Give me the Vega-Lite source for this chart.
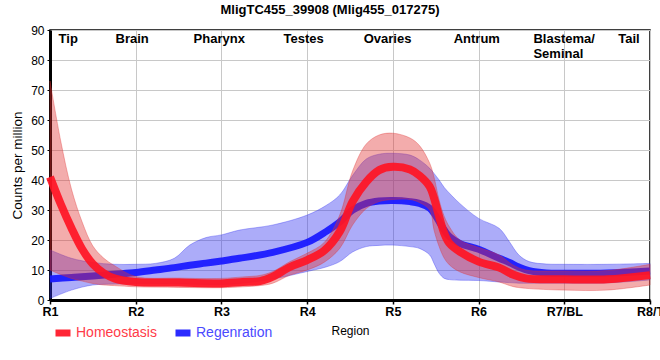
{
  "$schema": "https://vega.github.io/schema/vega-lite/v6.json",
  "width": 600,
  "height": 270,
  "autosize": {"type": "none"},
  "padding": {"left": 50, "top": 30, "right": 10, "bottom": 60},
  "background": "white",
  "title": {"text": "MligTC455_39908 (Mlig455_017275)", "font": "Liberation Sans", "fontSize": 13, "fontWeight": "bold", "color": "black", "anchor": "middle", "dx": -20, "offset": 7},
  "config": {
    "view": {"stroke": "black", "strokeWidth": 1.5},
    "font": "Liberation Sans",
    "axis": {"gridColor": "#c8c8c8", "gridWidth": 1, "gridOpacity": 1, "domainColor": "black", "domainWidth": 3, "tickColor": "black", "labelFont": "Liberation Sans", "titleFont": "Liberation Sans", "labelColor": "black", "titleColor": "black"}
  },
  "datasets": {
    "curves": [
      {"series": "Homeostasis", "x": 1.0, "mean": 41, "lo": 10, "hi": 73},
      {"series": "Homeostasis", "x": 1.125, "mean": 32, "lo": 8.5, "hi": 53},
      {"series": "Homeostasis", "x": 1.25, "mean": 24, "lo": 7.2, "hi": 37},
      {"series": "Homeostasis", "x": 1.375, "mean": 17, "lo": 6.3, "hi": 26},
      {"series": "Homeostasis", "x": 1.5, "mean": 12, "lo": 5.5, "hi": 18},
      {"series": "Homeostasis", "x": 1.625, "mean": 9, "lo": 5, "hi": 14},
      {"series": "Homeostasis", "x": 1.75, "mean": 7.2, "lo": 4.8, "hi": 11.5},
      {"series": "Homeostasis", "x": 2.0, "mean": 6, "lo": 4.4, "hi": 7.8},
      {"series": "Homeostasis", "x": 2.5, "mean": 5.8, "lo": 4.2, "hi": 7.3},
      {"series": "Homeostasis", "x": 3.0, "mean": 5.5, "lo": 4.1, "hi": 7.2},
      {"series": "Homeostasis", "x": 3.25, "mean": 6, "lo": 4.4, "hi": 7.7},
      {"series": "Homeostasis", "x": 3.45, "mean": 6.3, "lo": 4.8, "hi": 8.2},
      {"series": "Homeostasis", "x": 3.6, "mean": 7.8, "lo": 5.6, "hi": 9.5},
      {"series": "Homeostasis", "x": 3.8, "mean": 11, "lo": 8.3, "hi": 12.8},
      {"series": "Homeostasis", "x": 4.0, "mean": 13.3, "lo": 10, "hi": 15.6},
      {"series": "Homeostasis", "x": 4.2, "mean": 16.5, "lo": 12.6, "hi": 19.2},
      {"series": "Homeostasis", "x": 4.38, "mean": 22.8, "lo": 17.2, "hi": 28.3},
      {"series": "Homeostasis", "x": 4.53, "mean": 32.8, "lo": 25, "hi": 43},
      {"series": "Homeostasis", "x": 4.69, "mean": 39.4, "lo": 30.5, "hi": 52},
      {"series": "Homeostasis", "x": 4.84, "mean": 43.3, "lo": 32.8, "hi": 55},
      {"series": "Homeostasis", "x": 5.0, "mean": 44.4, "lo": 33.5, "hi": 55.6},
      {"series": "Homeostasis", "x": 5.2, "mean": 43.5, "lo": 33.5, "hi": 54},
      {"series": "Homeostasis", "x": 5.31, "mean": 41.5, "lo": 32.5, "hi": 51.5},
      {"series": "Homeostasis", "x": 5.43, "mean": 37.8, "lo": 30, "hi": 45.6},
      {"series": "Homeostasis", "x": 5.48, "mean": 34, "lo": 23.3, "hi": 41},
      {"series": "Homeostasis", "x": 5.54, "mean": 27.8, "lo": 17.8, "hi": 33.3},
      {"series": "Homeostasis", "x": 5.6, "mean": 22.2, "lo": 13.9, "hi": 27.8},
      {"series": "Homeostasis", "x": 5.66, "mean": 18.9, "lo": 11.7, "hi": 24.4},
      {"series": "Homeostasis", "x": 5.78, "mean": 16.1, "lo": 9.4, "hi": 20},
      {"series": "Homeostasis", "x": 6.0, "mean": 12.8, "lo": 7.5, "hi": 17.5},
      {"series": "Homeostasis", "x": 6.24, "mean": 10.8, "lo": 6, "hi": 15},
      {"series": "Homeostasis", "x": 6.4, "mean": 8.5, "lo": 4.5, "hi": 11.7},
      {"series": "Homeostasis", "x": 6.55, "mean": 7.2, "lo": 3.9, "hi": 10},
      {"series": "Homeostasis", "x": 7.0, "mean": 6.9, "lo": 3.3, "hi": 9.7},
      {"series": "Homeostasis", "x": 7.5, "mean": 6.9, "lo": 3.3, "hi": 9.8},
      {"series": "Homeostasis", "x": 8.0, "mean": 8.3, "lo": 5, "hi": 11.9},
      {"series": "Regenration", "x": 1.0, "mean": 7, "lo": 0.5, "hi": 16.7},
      {"series": "Regenration", "x": 1.25, "mean": 7.5, "lo": 3.3, "hi": 13.9},
      {"series": "Regenration", "x": 1.5, "mean": 8, "lo": 5, "hi": 12.5},
      {"series": "Regenration", "x": 1.75, "mean": 8.6, "lo": 5.3, "hi": 11.9},
      {"series": "Regenration", "x": 2.0, "mean": 9.2, "lo": 5.5, "hi": 11.9},
      {"series": "Regenration", "x": 2.23, "mean": 10, "lo": 5.5, "hi": 12.2},
      {"series": "Regenration", "x": 2.45, "mean": 10.8, "lo": 5.4, "hi": 13.9},
      {"series": "Regenration", "x": 2.63, "mean": 11.6, "lo": 5.3, "hi": 18.3},
      {"series": "Regenration", "x": 2.82, "mean": 12.3, "lo": 5.2, "hi": 20.8},
      {"series": "Regenration", "x": 3.0, "mean": 13, "lo": 5.2, "hi": 21.7},
      {"series": "Regenration", "x": 3.21, "mean": 13.9, "lo": 5.5, "hi": 23.3},
      {"series": "Regenration", "x": 3.6, "mean": 15.9, "lo": 7, "hi": 25},
      {"series": "Regenration", "x": 4.0, "mean": 19.2, "lo": 9.5, "hi": 28.3},
      {"series": "Regenration", "x": 4.22, "mean": 22.8, "lo": 11, "hi": 31.5},
      {"series": "Regenration", "x": 4.38, "mean": 26, "lo": 12.8, "hi": 35},
      {"series": "Regenration", "x": 4.53, "mean": 30, "lo": 16, "hi": 41.5},
      {"series": "Regenration", "x": 4.69, "mean": 32.2, "lo": 17.8, "hi": 47},
      {"series": "Regenration", "x": 4.84, "mean": 33, "lo": 18.2, "hi": 48.6},
      {"series": "Regenration", "x": 5.0, "mean": 33.2, "lo": 18.3, "hi": 48.9},
      {"series": "Regenration", "x": 5.2, "mean": 32.8, "lo": 17.8, "hi": 48.3},
      {"series": "Regenration", "x": 5.31, "mean": 32.2, "lo": 17.2, "hi": 46.7},
      {"series": "Regenration", "x": 5.43, "mean": 30.6, "lo": 15, "hi": 43.9},
      {"series": "Regenration", "x": 5.48, "mean": 28.9, "lo": 12.2, "hi": 42.2},
      {"series": "Regenration", "x": 5.54, "mean": 26.1, "lo": 8.9, "hi": 40},
      {"series": "Regenration", "x": 5.6, "mean": 23.3, "lo": 7.2, "hi": 37.5},
      {"series": "Regenration", "x": 5.66, "mean": 21.1, "lo": 6.8, "hi": 35.6},
      {"series": "Regenration", "x": 5.78, "mean": 18.9, "lo": 6.6, "hi": 32.2},
      {"series": "Regenration", "x": 6.0, "mean": 16.9, "lo": 6.5, "hi": 27.2},
      {"series": "Regenration", "x": 6.24, "mean": 13.9, "lo": 6, "hi": 23.9},
      {"series": "Regenration", "x": 6.36, "mean": 12.5, "lo": 5.8, "hi": 19.4},
      {"series": "Regenration", "x": 6.47, "mean": 11, "lo": 5.6, "hi": 15},
      {"series": "Regenration", "x": 6.59, "mean": 9.8, "lo": 5.6, "hi": 12.8},
      {"series": "Regenration", "x": 6.79, "mean": 9, "lo": 5.6, "hi": 12},
      {"series": "Regenration", "x": 7.0, "mean": 8.9, "lo": 5.6, "hi": 11.9},
      {"series": "Regenration", "x": 7.5, "mean": 9, "lo": 5.7, "hi": 11.9},
      {"series": "Regenration", "x": 8.0, "mean": 9.7, "lo": 6.7, "hi": 12.2}
    ],
    "regions": [
      {"label": "Tip", "x": 1.1},
      {"label": "Brain", "x": 1.765},
      {"label": "Pharynx", "x": 2.675},
      {"label": "Testes", "x": 3.725},
      {"label": "Ovaries", "x": 4.66},
      {"label": "Antrum", "x": 5.71},
      {"label": "Blastema/\nSeminal", "x": 6.64},
      {"label": "Tail", "x": 7.63}
    ]
  },
  "layer": [
    {
      "data": {"name": "curves"},
      "transform": [{"filter": "datum.series === 'Regenration'"}],
      "mark": {"type": "area", "interpolate": "catmull-rom", "fill": "#3030f0", "fillOpacity": 0.4, "stroke": "#3030f0", "strokeOpacity": 0.35, "strokeWidth": 1},
      "encoding": {
        "x": {"field": "x", "type": "quantitative", "scale": {"domain": [1, 8], "nice": false, "zero": false},
          "axis": {"values": [1, 2, 3, 4, 5, 6, 7, 8], "labelExpr": "['R1','R2','R3','R4','R5','R6','R7/BL','R8/T'][datum.value-1]", "labelFontWeight": "bold", "labelFontSize": 12.5, "labelPadding": 1, "tickSize": 4, "tickWidth": 1.5, "title": "Region", "titleFontWeight": "normal", "titleFontSize": 12, "titlePadding": 8, "labelOverlap": false, "labelFlush": false}},
        "y": {"field": "lo", "type": "quantitative", "scale": {"domain": [0, 90], "nice": false},
          "axis": {"values": [0, 10, 20, 30, 40, 50, 60, 70, 80, 90], "labelOverlap": false, "labelFontSize": 12, "labelPadding": 3, "tickSize": 3, "tickWidth": 1, "title": "Counts per million", "titleFontWeight": "normal", "titleFontSize": 13.5, "titlePadding": 6}},
        "y2": {"field": "hi"}
      }
    },
    {
      "data": {"name": "curves"},
      "transform": [{"filter": "datum.series === 'Regenration'"}],
      "mark": {"type": "line", "interpolate": "catmull-rom", "strokeWidth": 7, "opacity": 0.95, "color": "#1a1aff"},
      "encoding": {
        "x": {"field": "x", "type": "quantitative",
          "axis": {"values": [1, 2, 3, 4, 5, 6, 7, 8], "labelExpr": "['R1','R2','R3','R4','R5','R6','R7/BL','R8/T'][datum.value-1]", "labelFontWeight": "bold", "labelFontSize": 12.5, "labelPadding": 1, "tickSize": 4, "tickWidth": 1.5, "title": "Region", "titleFontWeight": "normal", "titleFontSize": 12, "titlePadding": 8, "labelOverlap": false, "labelFlush": false}},
        "y": {"field": "mean", "type": "quantitative",
          "axis": {"values": [0, 10, 20, 30, 40, 50, 60, 70, 80, 90], "labelOverlap": false, "labelFontSize": 12, "labelPadding": 3, "tickSize": 3, "tickWidth": 1, "title": "Counts per million", "titleFontWeight": "normal", "titleFontSize": 13.5, "titlePadding": 6}}
      }
    },
    {
      "data": {"name": "curves"},
      "transform": [{"filter": "datum.series === 'Homeostasis'"}],
      "mark": {"type": "area", "interpolate": "catmull-rom", "fill": "#e03030", "fillOpacity": 0.4, "stroke": "#e03030", "strokeOpacity": 0.35, "strokeWidth": 1},
      "encoding": {
        "x": {"field": "x", "type": "quantitative",
          "axis": {"values": [1, 2, 3, 4, 5, 6, 7, 8], "labelExpr": "['R1','R2','R3','R4','R5','R6','R7/BL','R8/T'][datum.value-1]", "labelFontWeight": "bold", "labelFontSize": 12.5, "labelPadding": 1, "tickSize": 4, "tickWidth": 1.5, "title": "Region", "titleFontWeight": "normal", "titleFontSize": 12, "titlePadding": 8, "labelOverlap": false, "labelFlush": false}},
        "y": {"field": "lo", "type": "quantitative",
          "axis": {"values": [0, 10, 20, 30, 40, 50, 60, 70, 80, 90], "labelOverlap": false, "labelFontSize": 12, "labelPadding": 3, "tickSize": 3, "tickWidth": 1, "title": "Counts per million", "titleFontWeight": "normal", "titleFontSize": 13.5, "titlePadding": 6}},
        "y2": {"field": "hi"}
      }
    },
    {
      "data": {"name": "curves"},
      "transform": [{"filter": "datum.series === 'Homeostasis'"}],
      "mark": {"type": "line", "interpolate": "catmull-rom", "strokeWidth": 8, "opacity": 0.92},
      "encoding": {
        "x": {"field": "x", "type": "quantitative",
          "axis": {"values": [1, 2, 3, 4, 5, 6, 7, 8], "labelExpr": "['R1','R2','R3','R4','R5','R6','R7/BL','R8/T'][datum.value-1]", "labelFontWeight": "bold", "labelFontSize": 12.5, "labelPadding": 1, "tickSize": 4, "tickWidth": 1.5, "title": "Region", "titleFontWeight": "normal", "titleFontSize": 12, "titlePadding": 8, "labelOverlap": false, "labelFlush": false}},
        "y": {"field": "mean", "type": "quantitative",
          "axis": {"values": [0, 10, 20, 30, 40, 50, 60, 70, 80, 90], "labelOverlap": false, "labelFontSize": 12, "labelPadding": 3, "tickSize": 3, "tickWidth": 1, "title": "Counts per million", "titleFontWeight": "normal", "titleFontSize": 13.5, "titlePadding": 6}},
        "color": {"field": "series", "type": "nominal",
          "scale": {"domain": ["Homeostasis", "Regenration"], "range": ["#ff1424", "#1a1aff"]},
          "legend": {"orient": "none", "legendX": 2, "legendY": 292, "direction": "horizontal", "title": null, "symbolType": "stroke", "symbolSize": 225, "symbolStrokeWidth": 7, "labelFont": "Liberation Sans", "labelFontSize": 14, "columnPadding": 4, "labelOffset": 2, "labelLimit": 0,
            "labelColor": {"expr": "datum.value === 'Homeostasis' ? '#ff3a48' : '#4a4aff'"}}}
      }
    },
    {
      "mark": {"type": "rule", "color": "black", "strokeWidth": 2.5, "strokeDash": [6, 4]},
      "encoding": {"x": {"datum": 7.5,
          "axis": {"values": [1, 2, 3, 4, 5, 6, 7, 8], "labelExpr": "['R1','R2','R3','R4','R5','R6','R7/BL','R8/T'][datum.value-1]", "labelFontWeight": "bold", "labelFontSize": 12.5, "labelPadding": 1, "tickSize": 4, "tickWidth": 1.5, "title": "Region", "titleFontWeight": "normal", "titleFontSize": 12, "titlePadding": 8, "labelOverlap": false, "labelFlush": false}}}
    },
    {
      "data": {"name": "regions"},
      "mark": {"type": "text", "align": "left", "baseline": "alphabetic", "font": "Liberation Sans", "fontSize": 13, "fontWeight": "bold", "color": "black", "lineBreak": "\n", "lineHeight": 15},
      "encoding": {
        "x": {"field": "x", "type": "quantitative",
          "axis": {"values": [1, 2, 3, 4, 5, 6, 7, 8], "labelExpr": "['R1','R2','R3','R4','R5','R6','R7/BL','R8/T'][datum.value-1]", "labelFontWeight": "bold", "labelFontSize": 12.5, "labelPadding": 1, "tickSize": 4, "tickWidth": 1.5, "title": "Region", "titleFontWeight": "normal", "titleFontSize": 12, "titlePadding": 8, "labelOverlap": false, "labelFlush": false}},
        "y": {"datum": 85.7,
          "axis": {"values": [0, 10, 20, 30, 40, 50, 60, 70, 80, 90], "labelOverlap": false, "labelFontSize": 12, "labelPadding": 3, "tickSize": 3, "tickWidth": 1, "title": "Counts per million", "titleFontWeight": "normal", "titleFontSize": 13.5, "titlePadding": 6}},
        "text": {"field": "label"}
      }
    }
  ]
}
